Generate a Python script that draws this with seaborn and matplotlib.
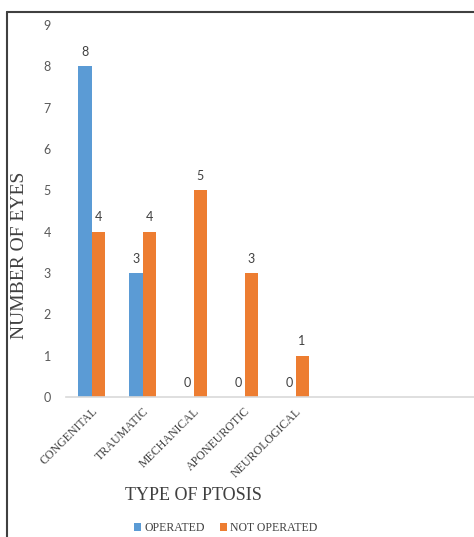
import pandas as pd
import matplotlib
matplotlib.use('Agg')
import matplotlib.pyplot as plt
from matplotlib.lines import Line2D
from matplotlib.patches import Patch
import seaborn as sns

categorias = ['CONGENITAL', 'TRAUMATIC', 'MECHANICAL', 'APONEUROTIC', 'NEUROLOGICAL']
operados = [8, 3, 0, 0, 0]
nao_operados = [4, 4, 5, 3, 1]
grupos = ['OPERATED', 'NOT OPERATED']
cores = ['#5B9BD5', '#ED7D31']

df = pd.DataFrame({
    'tipo': categorias * 2,
    'grupo': [grupos[0]] * len(categorias) + [grupos[1]] * len(categorias),
    'olhos': operados + nao_operados,
})

sns.set_style('white')
serif = 'Liberation Serif'
sans = 'Lato'

fig = plt.figure(figsize=(4.74, 5.37), dpi=100)
ax = fig.add_axes([66 / 474, 1 - 397 / 537, 1 - 66 / 474, (397 - 25) / 537])

sns.barplot(data=df, x='tipo', y='olhos', hue='grupo', order=categorias,
            hue_order=grupos, palette=cores, width=0.51, gap=0,
            saturation=1, legend=False, linewidth=0, ax=ax)

for cont in ax.containers:
    ax.bar_label(cont, fmt='%d', padding=6, fontsize=9, color='#404040', family=sans)

ax.set_xlim(-0.5, 7.5)
ax.set_ylim(0, 9)
ax.set_yticks(range(10))
ax.set_xlabel('')
ax.set_ylabel('')

for s in ['left', 'right', 'top']:
    ax.spines[s].set_visible(False)
ax.spines['bottom'].set_color('#D9D9D9')
ax.spines['bottom'].set_linewidth(1.2)

ax.tick_params(axis='both', length=0)
ax.tick_params(axis='y', pad=11, labelsize=9, labelcolor='#595959')
for lbl in ax.get_yticklabels():
    lbl.set_family(sans)
ax.set_xticks(range(len(categorias)))
ax.set_xticklabels(categorias, rotation=45, ha='right', rotation_mode='anchor',
                   family=serif, fontsize=8.6, color='#404040')
ax.tick_params(axis='x', pad=6)

fig.text(20 / 474, 1 - 255 / 537, 'NUMBER OF EYES', rotation=90, ha='center', va='center',
         family=serif, fontsize=14, color='#404040')
fig.text(193 / 474, 1 - 495 / 537, 'TYPE OF PTOSIS', ha='center', va='center',
         family=serif, fontsize=13, color='#404040')

handles = [Patch(facecolor=c, edgecolor='none') for c in cores]
fig.legend(handles, grupos, loc='center', bbox_to_anchor=(226 / 474, 1 - 528 / 537),
           ncol=2, frameon=False, handlelength=0.6, handleheight=0.6, handletextpad=0.3,
           columnspacing=1.2, prop={'family': serif, 'size': 8.5}, labelcolor='#404040')

# moldura
fig.add_artist(Line2D([6.5 / 474, 6.5 / 474], [0, 1 - 11.5 / 537], transform=fig.transFigure,
                      color='#404040', lw=1.5))
fig.add_artist(Line2D([6.5 / 474, 1], [1 - 11.5 / 537, 1 - 11.5 / 537], transform=fig.transFigure,
                      color='#404040', lw=1.5))

fig.savefig('out.png', dpi=100, facecolor='white')
